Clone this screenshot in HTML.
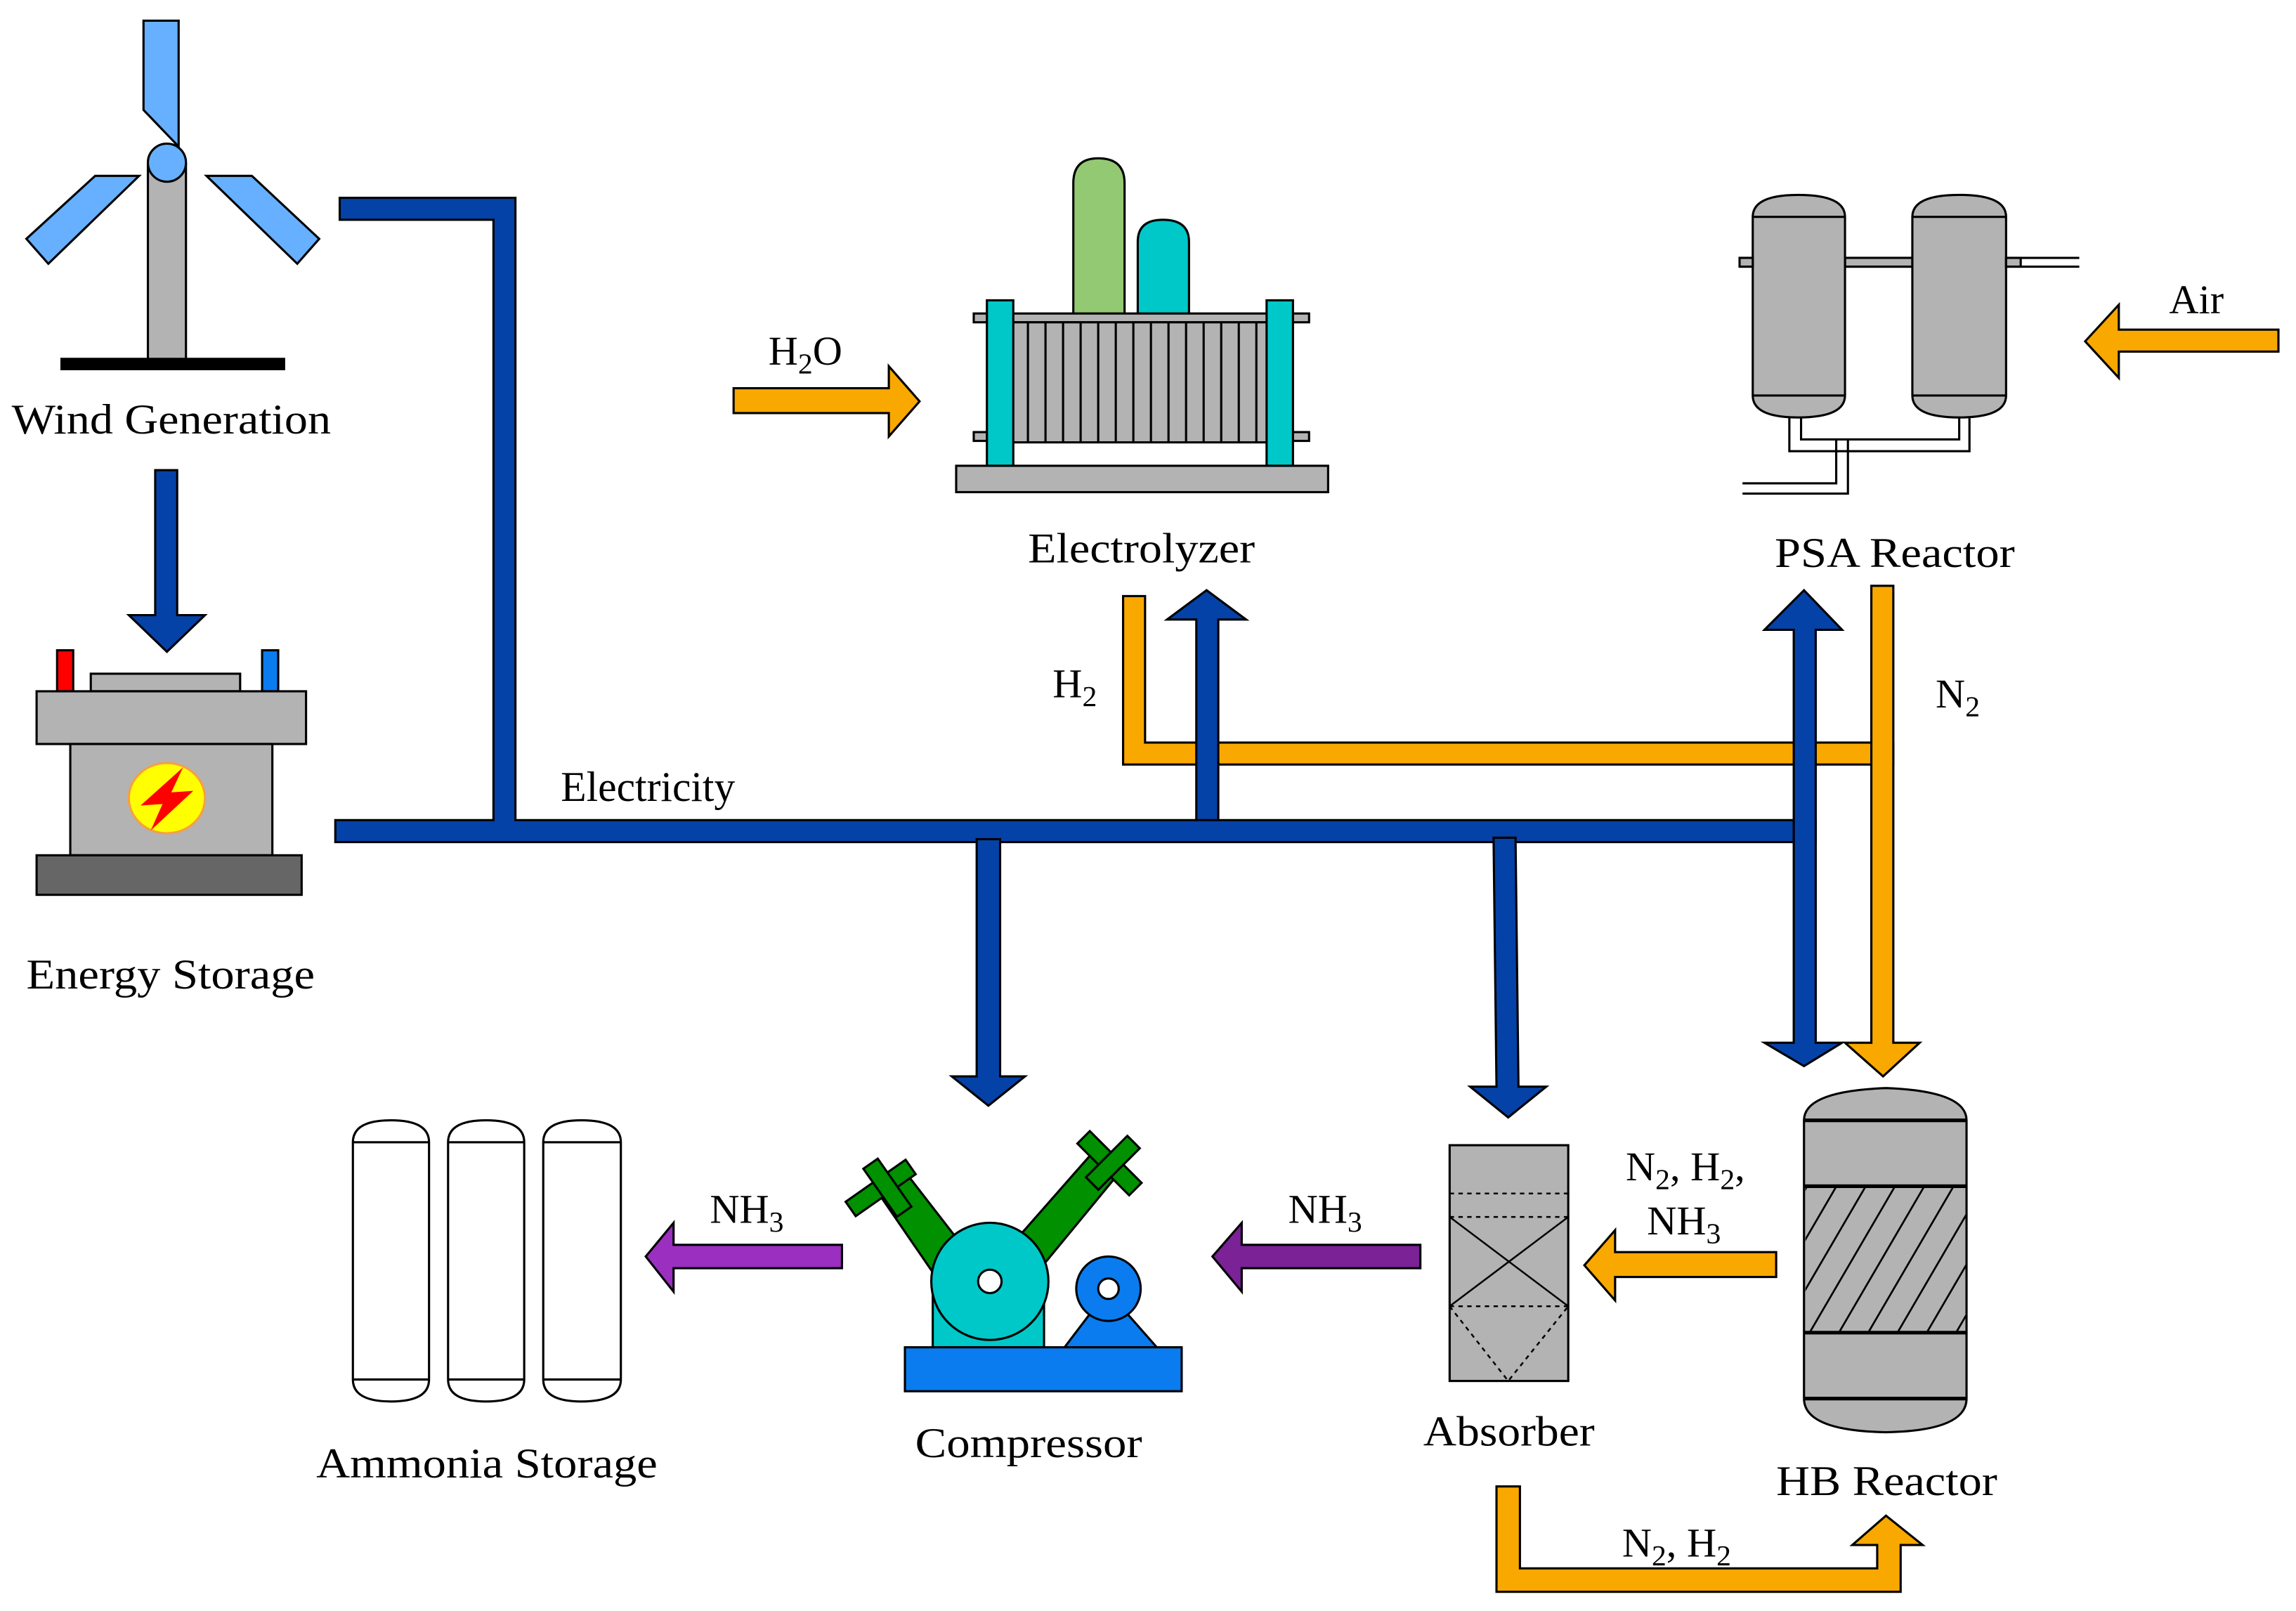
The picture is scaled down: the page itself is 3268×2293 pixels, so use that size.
<!DOCTYPE html>
<html><head><meta charset="utf-8"><style>
html,body{margin:0;padding:0;background:#fff;}
svg{display:block;}
text{font-family:"Liberation Serif",serif;fill:#000;}
</style></head><body>
<svg width="3268" height="2293" viewBox="0 0 1568 1100" xmlns="http://www.w3.org/2000/svg">
<defs>
<clipPath id="hbc"><rect x="1233" y="810" width="110" height="100"/></clipPath>
</defs>
<g stroke="#000" stroke-width="1.5">
<polygon points="98,14 122,14 122,100 98,75" fill="#66b0ff"/>
<polygon points="18,163 65,120 95,120 33,180" fill="#66b0ff"/>
<polygon points="141,120 172,120 218,163 203,180" fill="#66b0ff"/>
<rect x="101" y="112" width="26" height="136" fill="#b3b3b3"/>
<ellipse cx="114" cy="111" rx="13" ry="13" fill="#66b0ff"/>
<rect x="42" y="245" width="152" height="7" fill="#000"/>
<polygon points="106,321 121,321 121,420 140,420 114,445 88,420 106,420" fill="#0542a8"/>
<rect x="39" y="444" width="11" height="28" fill="#ff0000"/>
<rect x="179" y="444" width="11" height="28" fill="#0a7cf0"/>
<rect x="62" y="460" width="102" height="12" fill="#b3b3b3"/>
<rect x="25" y="472" width="184" height="36" fill="#b3b3b3"/>
<rect x="48" y="508" width="138" height="76" fill="#b3b3b3"/>
<rect x="25" y="584" width="181" height="27" fill="#666"/>
<ellipse cx="114" cy="545" rx="26" ry="24" fill="#ffff00" stroke="#f5a040"/>
<polygon points="125,524 96,550 111,549 103,567 132,540 117,541" fill="#ff0000" stroke="none"/>
<polygon points="232,135 352,135 352,560 1240,560 1240,575 229,575 229,560 337,560 337,150 232,150" fill="#0542a8"/>
<polygon points="767,407 782,407 782,507 1293,507 1293,522 767,522" fill="#f9a800"/>
<polygon points="1278,400 1293,400 1293,712 1311,712 1286,735 1260,712 1278,712" fill="#f9a800"/>
<polygon points="817,560 817,423 797,423 824,403 851,423 832,423 832,560" fill="#0542a8"/>
<polygon points="1225,430 1205,430 1232,403 1258,430 1240,430 1240,712 1258,712 1232,728 1205,712 1225,712" fill="#0542a8"/>
<polygon points="667,573 683,573 683,735 700,735 675,755 650,735 667,735" fill="#0542a8"/>
<polygon points="1020,572 1035,572 1037,742 1056,742 1030,763 1004,742 1022,742" fill="#0542a8"/>
<polygon points="501,265 607,265 607,250 628,274 607,298 607,282 501,282" fill="#f9a800"/>
<path d="M733,220 V125 Q733,108 750,108 Q768,108 768,125 V220 Z" fill="#94c973"/>
<path d="M777,220 V165 Q777,150 794,150 Q812,150 812,165 V220 Z" fill="#00c8c8"/>
<rect x="665" y="214" width="229" height="6" fill="#b3b3b3"/>
<rect x="665" y="295" width="229" height="6" fill="#b3b3b3"/>
<rect x="690" y="220" width="176" height="82" fill="#b3b3b3"/>
<path d="M702,220V302M714,220V302M726,220V302M738,220V302M750,220V302M762,220V302M774,220V302M786,220V302M798,220V302M810,220V302M822,220V302M834,220V302M846,220V302M858,220V302" fill="none"/>
<rect x="674" y="205" width="18" height="113" fill="#00c8c8"/>
<rect x="865" y="205" width="18" height="113" fill="#00c8c8"/>
<rect x="653" y="318" width="254" height="18" fill="#b3b3b3"/>
<path d="M1188,176 H1420 M1188,182 H1420" fill="none"/>
<rect x="1260" y="176" width="46" height="6" fill="#b3b3b3"/>
<path d="M1230,285 V300 H1338 V285 M1222,285 V308 H1345 V285 M1254,300 V330 H1190 M1262,300 V337 H1190" fill="none"/>
<path d="M1197,148 Q1197,133 1228,133 Q1260,133 1260,148 V270 Q1260,285 1228,285 Q1197,285 1197,270 Z" fill="#b3b3b3"/>
<path d="M1306,148 Q1306,133 1338,133 Q1370,133 1370,148 V270 Q1370,285 1338,285 Q1306,285 1306,270 Z" fill="#b3b3b3"/>
<path d="M1197,148 H1260 M1197,270 H1260 M1306,148 H1370 M1306,270 H1370" fill="none"/>
<rect x="1188" y="176" width="9" height="6" fill="#b3b3b3"/>
<rect x="1370" y="176" width="10" height="6" fill="#b3b3b3"/>
<polygon points="1556,225 1447,225 1447,208 1424,233 1447,258 1447,240 1556,240" fill="#f9a800"/>
<path d="M1232,765 Q1232,745 1288,743 Q1343,745 1343,765 V955 Q1343,977 1288,978 Q1232,977 1232,955 Z" fill="#b3b3b3"/>
<path d="M1232,765H1343M1232,810H1343M1232,910H1343M1232,955H1343" fill="none" stroke-width="2.5"/>
<g clip-path="url(#hbc)" stroke-width="1.3">
<path d="M1210,920 L1280,800 M1230,920 L1300,800 M1250,920 L1320,800 M1270,920 L1340,800 M1290,920 L1360,800 M1310,920 L1380,800 M1330,920 L1400,800 M1190,920 L1260,800 M1170,920 L1240,800"/>
</g>
<polygon points="1213,855 1103,855 1103,840 1082,864 1103,888 1103,872 1213,872" fill="#f9a800"/>
<rect x="990" y="782" width="81" height="161" fill="#b3b3b3"/>
<path d="M990,815H1071M990,831H1071M990,892H1071M990,892 L1030,943 L1071,892" fill="none" stroke-dasharray="3,3" stroke-width="1.2"/>
<path d="M990,831 L1071,892 M1071,831 L990,892" fill="none" stroke-width="1.2"/>
<polygon points="970,850 848,850 848,835 828,858 848,882 848,866 970,866" fill="#7a2296"/>
<polygon points="575,850 460,850 460,835 441,858 460,882 460,866 575,866" fill="#9a2fc0"/>
<g fill="#009000">
<polygon points="618,800 598,812 655,895 680,880"/>
<polygon points="748,785 765,800 695,885 675,868"/>
<rect x="577" y="805" width="50" height="12" transform="rotate(-35 602 812)"/>
<rect x="586" y="805" width="40" height="12" transform="rotate(-125 606 811)"/>
<rect x="732" y="788" width="50" height="12" transform="rotate(45 757 795)"/>
<rect x="740" y="788" width="40" height="12" transform="rotate(-45 760 794)"/>
</g>
<rect x="637" y="875" width="76" height="45" fill="#00c8c8"/>
<ellipse cx="676" cy="875" rx="40" ry="40" fill="#00c8c8"/>
<ellipse cx="676" cy="875" rx="8" ry="8" fill="#fff"/>
<polygon points="746,895 768,895 790,920 727,920" fill="#0a7cf0"/>
<ellipse cx="757" cy="880" rx="22" ry="22" fill="#0a7cf0"/>
<ellipse cx="757" cy="880" rx="7" ry="7" fill="#fff"/>
<rect x="618" y="920" width="189" height="30" fill="#0a7cf0"/>
<g fill="#fff">
<path d="M241,780 Q241,765 267,765 Q293,765 293,780 V942 Q293,957 267,957 Q241,957 241,942 Z"/>
<path d="M306,780 Q306,765 332,765 Q358,765 358,780 V942 Q358,957 332,957 Q306,957 306,942 Z"/>
<path d="M371,780 Q371,765 397,765 Q424,765 424,780 V942 Q424,957 397,957 Q371,957 371,942 Z"/>
<path d="M241,780H293M241,942H293M306,780H358M306,942H358M371,780H424M371,942H424" fill="none"/>
</g>
<polygon points="1022,1015 1038,1015 1038,1071 1282,1071 1282,1055 1265,1055 1288,1035 1313,1055 1298,1055 1298,1087 1022,1087" fill="#f9a800"/>
</g>
<g font-size="29">
<text x="8" y="296" textLength="218" lengthAdjust="spacingAndGlyphs">Wind Generation</text>
<text x="18" y="675" textLength="197" lengthAdjust="spacingAndGlyphs">Energy Storage</text>
<text x="383" y="547" textLength="119" lengthAdjust="spacingAndGlyphs">Electricity</text>
<text x="702" y="384" textLength="155" lengthAdjust="spacingAndGlyphs">Electrolyzer</text>
<text x="1212" y="387" textLength="164" lengthAdjust="spacingAndGlyphs">PSA Reactor</text>
<text x="972" y="987" textLength="117" lengthAdjust="spacingAndGlyphs">Absorber</text>
<text x="625" y="995" textLength="155" lengthAdjust="spacingAndGlyphs">Compressor</text>
<text x="216" y="1009" textLength="233" lengthAdjust="spacingAndGlyphs">Ammonia Storage</text>
<text x="1213" y="1021" textLength="151" lengthAdjust="spacingAndGlyphs">HB Reactor</text>
</g>
<g font-size="28" text-anchor="middle">
<text x="1500" y="214">Air</text>
<text x="550" y="249">H<tspan font-size="20" dy="6">2</tspan><tspan dy="-6">O</tspan></text>
<text x="734" y="476">H<tspan font-size="20" dy="6">2</tspan></text>
<text x="1337" y="483">N<tspan font-size="20" dy="6">2</tspan></text>
<text x="1151" y="806">N<tspan font-size="20" dy="6">2</tspan><tspan dy="-6">, H</tspan><tspan font-size="20" dy="6">2</tspan><tspan dy="-6">,</tspan></text>
<text x="1150" y="843">NH<tspan font-size="20" dy="6">3</tspan></text>
<text x="905" y="835">NH<tspan font-size="20" dy="6">3</tspan></text>
<text x="510" y="835">NH<tspan font-size="20" dy="6">3</tspan></text>
<text x="1145" y="1063">N<tspan font-size="20" dy="6">2</tspan><tspan dy="-6">, H</tspan><tspan font-size="20" dy="6">2</tspan></text>
</g>
</svg>
</body></html>
